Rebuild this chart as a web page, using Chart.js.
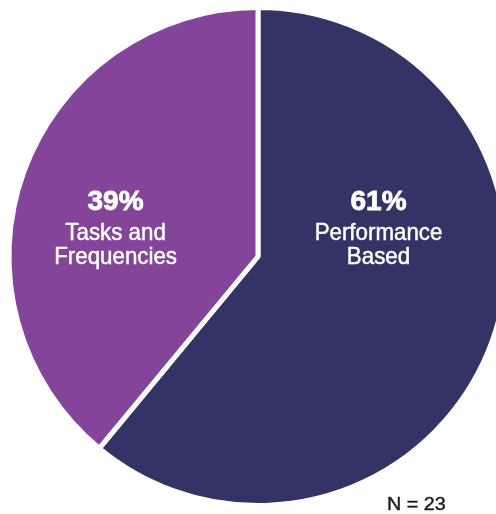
<!DOCTYPE html>
<html>
<head>
<meta charset="utf-8">
<script src="https://cdn.jsdelivr.net/npm/chart.js@4/dist/chart.umd.min.js"></script>
<style>
  html, body { margin: 0; padding: 0; overflow: hidden; background: #fff; }
  .chart-wrapper { position: relative; width: 516px; height: 514px; }
</style>
</head>
<body>
<div class="chart-wrapper">
  <canvas id="method-pie"></canvas>
</div>
<script>
// Data
const categories = ["Performance Based", "Tasks and Frequencies"];
const labelLines = [["Performance", "Based"], ["Tasks and", "Frequencies"]];
const shares = [61, 39];
const sampleNote = "N = 23";
const colors = ["#333366", "#84449A"];

// label anchor, as a fraction of the radius from the centre (baseline of the %)
const labelOffsets = [
  { x: 0.484, y: -0.186 },
  { x: -0.572, y: -0.186 },
];

const FONT = '"Liberation Sans", Arial, sans-serif';

// draws text squeezed a bit sideways, like a condensed face,
// with a thin stroke in the same colour to thicken it up
const narrowText = (ctx, text, x, y, squeeze, weight) => {
  ctx.save();
  ctx.translate(x, y);
  ctx.scale(squeeze, 1);
  ctx.fillText(text, 0, 0);
  if (weight) {
    ctx.lineWidth = weight;
    ctx.strokeText(text, 0, 0);
  }
  ctx.restore();
};

const sliceLabels = {
  id: "sliceLabels",
  afterDatasetsDraw(chart) {
    const ctx = chart.ctx;
    const arcs = chart.getDatasetMeta(0).data;
    ctx.save();
    ctx.fillStyle = "#fff";
    ctx.strokeStyle = "#fff";
    ctx.textAlign = "center";
    ctx.textBaseline = "alphabetic";
    arcs.forEach((arc, i) => {
      const r = arc.outerRadius;
      const x = arc.x + labelOffsets[i].x * r;
      const y = arc.y + labelOffsets[i].y * r;
      ctx.font = "bold 28px " + FONT;
      narrowText(ctx, `${shares[i]}%`, x, y, 1.0, 0.8);
      ctx.font = "24px " + FONT;
      labelLines[i].forEach((line, j) => {
        narrowText(ctx, line, x, y + 30 + j * 23.5, 0.93, 0.5);
      });
    });
    // sample size note, bottom right
    ctx.fillStyle = "#1a1a1a";
    ctx.strokeStyle = "#1a1a1a";
    ctx.textAlign = "left";
    ctx.font = "19px " + FONT;
    narrowText(ctx, sampleNote, 387, 509.5, 1.04, 0.4);
    ctx.restore();
  },
};

const drawPie = () => {
  const canvas = document.getElementById("method-pie");
  const data = {
    labels: categories,
    datasets: [
      {
        data: shares,
        backgroundColor: colors,
        borderColor: "#fff",
        borderWidth: 5,
      },
    ],
  };
  const chartSettings = {
    responsive: true,
    maintainAspectRatio: false,
    animation: false,
    layout: { padding: { left: 5.5, right: 5.5, top: 5, bottom: 6 } },
    plugins: {
      legend: { display: false },
      tooltip: { enabled: false },
    },
  };
  new Chart(canvas, {
    type: "pie",
    data: data,
    options: chartSettings,
    plugins: [sliceLabels],
  });
};

drawPie();
</script>
</body>
</html>
